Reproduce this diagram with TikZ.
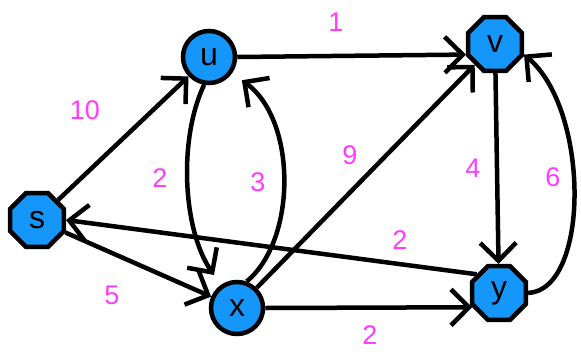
\documentclass[tikz,border=0pt]{standalone}
\usepackage{fontspec}
\setmainfont{Liberation Sans}
\usetikzlibrary{shapes.geometric,arrows.meta}
\definecolor{nodeblue}{RGB}{20,150,250}
\definecolor{lblmag}{RGB}{255,60,255}
\begin{document}
\begin{tikzpicture}[x=1pt,y=-1pt,
  edge/.style={line width=4.5pt,-{Straight Barb[length=18pt,width=36pt]}},
  cnode/.style={circle,draw,line width=4.5pt,fill=nodeblue,minimum size=52pt,inner sep=0pt,font=\fontsize{32}{32}\selectfont},
  onode/.style={regular polygon,regular polygon sides=8,draw,line width=4.5pt,fill=nodeblue,minimum size=58pt,inner sep=0pt,font=\fontsize{32}{32}\selectfont},
  lbl/.style={text=lblmag,font=\fontsize{27}{27}\selectfont,inner sep=0pt}]
\useasboundingbox (0,0) rectangle (581,354);
\node[cnode] (u) at (209,57) {u};
\node[onode] (v) at (495,44) {v};
\node[onode] (s) at (37,220) {s};
\node[cnode] (x) at (237,308) {x};
\node[onode] (y) at (499,293) {y};

\draw[edge] (s) -- (u);
\draw[edge] (u.east) -- (v.200);
\draw[edge,shorten >=12pt] (u.260) .. controls (178,140) and (183,230) .. (x.125);
\draw[edge,shorten >=12pt] (x.70) .. controls (297,240) and (297,120) .. (u.325);
\draw[edge] (x) -- (v);
\draw[edge] (s) -- (x);
\draw[edge] (y.140) -- (s.east);
\draw[edge] (x.east) -- (y.208);
\draw[edge] (v) -- (y);
\draw[edge] (y.east) .. controls (590,290) and (590,110) .. (v.340);

\node[lbl] (l10) at (85,110) {10};
\node[lbl] (l1) at (336,22) {1};
\node[lbl] (l2a) at (160,178) {2};
\node[lbl] (l3) at (258,182) {3};
\node[lbl] (l9) at (350,155) {9};
\node[lbl] (l4) at (473,168) {4};
\node[lbl] (l6) at (553,177) {6};
\node[lbl] (l2b) at (400,240) {2};
\node[lbl] (l5) at (112,295) {5};
\node[lbl] (l2c) at (370,335) {2};
\end{tikzpicture}
\end{document}
